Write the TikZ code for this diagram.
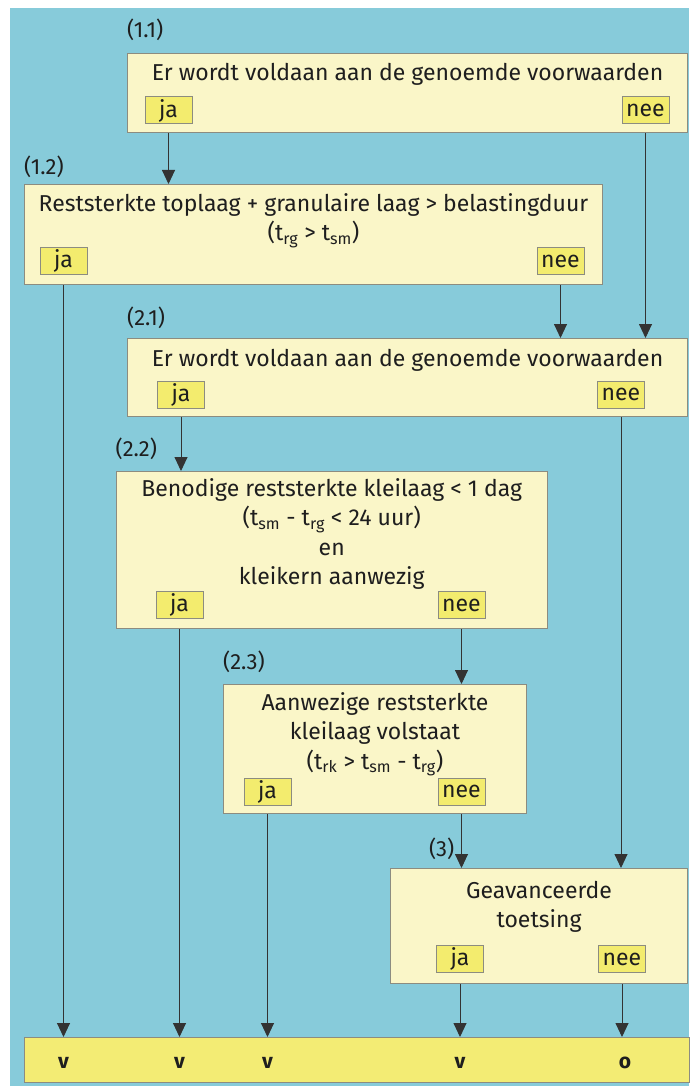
\documentclass[tikz,border=0pt]{standalone}
\usepackage{fontspec}
\setmainfont{Fira Sans}
\usetikzlibrary{arrows.meta,positioning}

\definecolor{achtergrond}{HTML}{87CBDA}
\definecolor{vakgeel}{HTML}{FAF6C8}
\definecolor{keuzegeel}{HTML}{F3EC6E}
\definecolor{balkgeel}{HTML}{F3EC74}
\definecolor{rand}{HTML}{8C8C80}
\definecolor{lijn}{HTML}{333333}
\definecolor{tekst}{HTML}{1E1E1E}

\tikzset{
  vak/.style={draw=rand, line width=1pt, fill=vakgeel,
              anchor=north west, inner sep=0pt},
  keuze/.style={draw=rand, line width=1pt, fill=keuzegeel,
                minimum width=47pt, minimum height=27pt, inner sep=0pt,
                text=tekst, font=\fontsize{23}{25}\selectfont},
  vraag/.style={align=center, inner sep=0pt, text=tekst,
                font=\fontsize{23}{29.5}\selectfont},
  nummer/.style={inner sep=0pt, text=tekst,
                 font=\fontsize{22}{25}\selectfont},
  pijl/.style={draw=lijn, line width=0.9pt,
               -{Triangle[width=13pt,length=14pt]}},
  uitkomst/.style={text=tekst, font=\bfseries\fontsize{21}{25}\selectfont}
}

\begin{document}
\begin{tikzpicture}[x=1pt, y=-1pt]
    % Achtergrond
    \useasboundingbox (0,0) rectangle (689,1086);
    \fill[white] (0,0) rectangle (689,1086);
    \fill[achtergrond] (10,8) rectangle (689,1086);

    % Stap (1.1)
    \node[vak, minimum width=560pt, minimum height=79pt] (b11) at (127,53) {};
    \node[vraag, below=10pt of b11.north] (t11)
        {Er wordt voldaan aan de genoemde voorwaarden};
    \node[keuze] (ja11) at (168.5,110.5) {ja};
    \node[keuze] (nee11) at (645.5,110.5) {nee};
    \node[nummer, above right=12pt and 0pt of b11.north west] (n11) {(1.1)};

    % Stap (1.2)
    \node[vak, minimum width=578pt, minimum height=100pt] (b12) at (24,184) {};
    \node[vraag, below=9pt of b12.north] (t12)
        {Reststerkte toplaag + granulaire laag > belastingduur\\
         (t\textsubscript{rg} > t\textsubscript{sm})};
    \node[keuze] (ja12) at (63.5,261) {ja};
    \node[keuze] (nee12) at (560.5,261) {nee};
    \node[nummer, above right=6pt and 0pt of b12.north west] (n12) {(1.2)};

    % Stap (2.1)
    \node[vak, minimum width=560pt, minimum height=78pt] (b21) at (127,338) {};
    \node[vraag, below=11pt of b21.north] (t21)
        {Er wordt voldaan aan de genoemde voorwaarden};
    \node[keuze] (ja21) at (181,394.5) {ja};
    \node[keuze] (nee21) at (621,394.5) {nee};
    \node[nummer, above right=9pt and 0pt of b21.north west] (n21) {(2.1)};

    % Stap (2.2)
    \node[vak, minimum width=431.5pt, minimum height=157pt] (b22) at (115.5,471) {};
    \node[vraag, below=7pt of b22.north] (t22)
        {Benodige reststerkte kleilaag < 1 dag\\
         (t\textsubscript{sm} - t\textsubscript{rg} < 24 uur)\\
         en\\
         kleikern aanwezig};
    \node[keuze] (ja22) at (179.5,605) {ja};
    \node[keuze] (nee22) at (461.5,605) {nee};
    \node[nummer, above right=11pt and 0pt of b22.north west] (n22) {(2.2)};

    % Stap (2.3)
    \node[vak, minimum width=303pt, minimum height=129pt] (b23) at (223,684) {};
    \node[vraag, below=8pt of b23.north] (t23)
        {Aanwezige reststerkte\\
         kleilaag volstaat\\
         (t\textsubscript{rk} > t\textsubscript{sm} - t\textsubscript{rg})};
    \node[keuze] (ja23) at (267.5,791.5) {ja};
    \node[keuze] (nee23) at (461.5,791.5) {nee};
    \node[nummer, above right=11pt and 0pt of b23.north west] (n23) {(2.3)};

    % Stap (3)
    \node[vak, minimum width=297pt, minimum height=115pt] (b3) at (390,868) {};
    \node[vraag, below=13pt of b3.north] (t3)
        {Geavanceerde\\toetsing};
    \node[keuze] (ja3) at (460,959) {ja};
    \node[keuze] (nee3) at (622,959) {nee};
    \coordinate (in3) at (nee23 |- b3.north);
    \node[nummer, above left=8pt and 7pt of in3] (n3) {(3)};

    % Uitkomstbalk
    \node[vak, fill=balkgeel, minimum width=665pt, minimum height=45pt] (bar) at (24,1037) {};
    \node[uitkomst, yshift=-3pt] (u1) at (ja12 |- bar.center) {v};
    \node[uitkomst, yshift=-3pt] (u2) at (ja22 |- bar.center) {v};
    \node[uitkomst, yshift=-3pt] (u3) at (ja23 |- bar.center) {v};
    \node[uitkomst, yshift=-3pt] (u4) at (ja3 |- bar.center) {v};
    \node[uitkomst, yshift=-3pt, xshift=3pt] (u5) at (nee3 |- bar.center) {o};

    % Verbindingen
    \draw[pijl] (ja11 |- b11.south) -- (ja11 |- b12.north);
    \draw[pijl] (nee11 |- b11.south) -- (nee11 |- b21.north);
    \draw[pijl] (ja12 |- b12.south) -- (ja12 |- bar.north);
    \draw[pijl] (nee12 |- b12.south) -- (nee12 |- b21.north);
    \draw[pijl] (ja21 |- b21.south) -- (ja21 |- b22.north);
    \draw[pijl] (nee21 |- b21.south) -- (nee21 |- b3.north);
    \draw[pijl] (ja22 |- b22.south) -- (ja22 |- bar.north);
    \draw[pijl] (nee22 |- b22.south) -- (nee22 |- b23.north);
    \draw[pijl] (ja23 |- b23.south) -- (ja23 |- bar.north);
    \draw[pijl] (nee23 |- b23.south) -- (in3);
    \draw[pijl] (ja3 |- b3.south) -- (ja3 |- bar.north);
    \draw[pijl] (nee3 |- b3.south) -- (nee3 |- bar.north);
\end{tikzpicture}
\end{document}
